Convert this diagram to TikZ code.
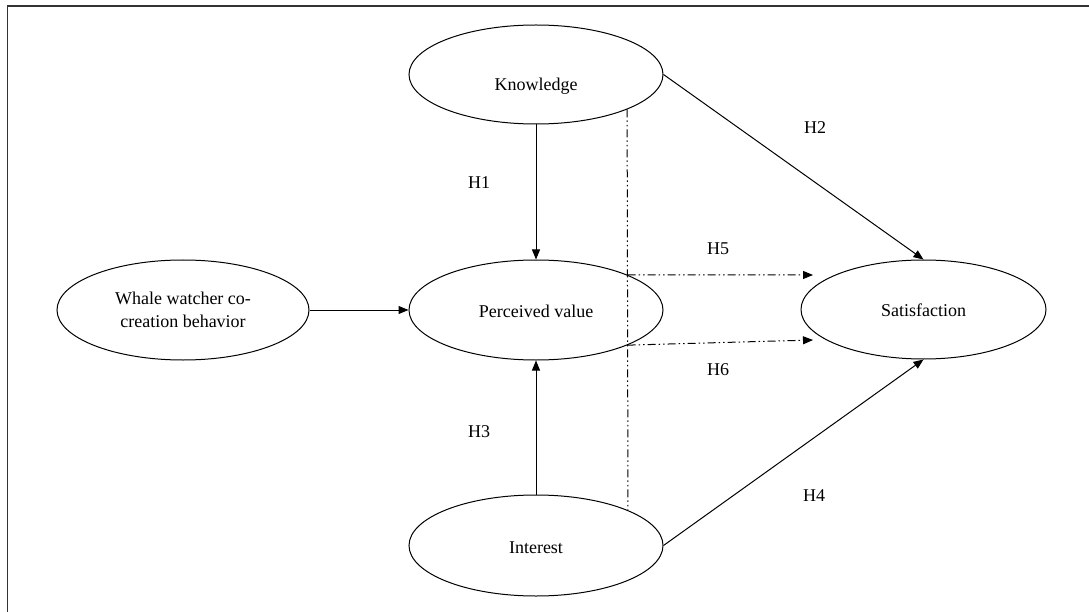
\documentclass[tikz,border=0pt]{standalone}
\usepackage{fontspec}
\setmainfont{Liberation Serif}
\usetikzlibrary{shapes.geometric,arrows.meta}
\begin{document}
\begin{tikzpicture}[x=1bp,y=-1bp,
  ell/.style={draw, ellipse, inner sep=0pt, line width=1bp, font=\fontsize{18bp}{23bp}\selectfont, text height=15bp, text depth=0pt},
  conn/.style={line width=1bp, -{Triangle[length=10bp,width=8bp]}},
  dd/.style={line width=1bp, dash pattern=on 8bp off 3bp on 1.5bp off 3bp on 1.5bp off 3bp},
  hl/.style={font=\fontsize{18bp}{22bp}\selectfont, inner sep=0pt}]
\useasboundingbox (0,0) rectangle (1089,612);
\draw[line width=1.5bp, black!80] (7.5,612) -- (7.5,6) -- (1089,6);

\node[ell, minimum width=254bp, minimum height=99bp, text height=33bp] (know) at (536,74.5) {Knowledge};
\node[ell, minimum width=252bp, minimum height=100bp, text height=, text depth=, align=center] (whale) at (183,310) {Whale watcher co-\\creation behavior};
\node[ell, minimum width=254bp, minimum height=100bp] (pv) at (536,310) {Perceived value};
\node[ell, minimum width=245bp, minimum height=99bp] (sat) at (923.5,309.5) {Satisfaction};
\node[ell, minimum width=254bp, minimum height=101bp] (int) at (536,545.5) {Interest};

\coordinate (h5end) at (813,275);
\coordinate (h6end) at (813,340);

\draw[conn] (whale.east) -- (pv.west);
\draw[conn] (know.south) -- (pv.north);
\draw[conn] (int.north) -- (pv.south);
\draw[conn] (know.east) -- (sat.north);
\draw[conn] (int.east) -- (sat.south);
\draw[dd] (know.-21.3) -- (int.21.7);
\draw[dd, -{Triangle[length=10bp,width=8bp]}] (pv.21.3) -- (h5end);
\draw[dd, -{Triangle[length=10bp,width=8bp]}] (pv.-21.3) -- (h6end);

\node[hl] (h1) at (479,183) {H1};
\node[hl] (h2) at (815,128) {H2};
\node[hl] (h3) at (479,432) {H3};
\node[hl] (h4) at (814,496) {H4};
\node[hl] (h5) at (718,249) {H5};
\node[hl] (h6) at (718,370) {H6};
\end{tikzpicture}
\end{document}
